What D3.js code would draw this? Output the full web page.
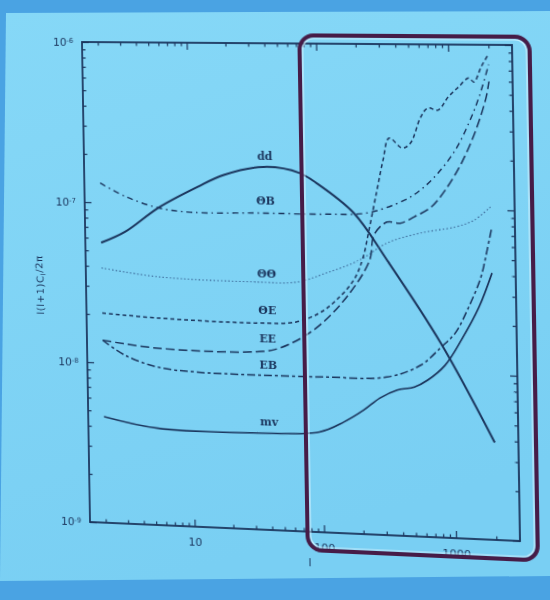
<!DOCTYPE html>
<html>
<head>
<meta charset="utf-8">
<script src="https://cdn.jsdelivr.net/npm/d3@7"></script>
<style>
html, body { margin: 0; padding: 0; width: 550px; height: 600px; overflow: hidden; background: #4aa3e3; }
#bg, #chart { position: absolute; left: 0; top: 0; }
#chart { transform-origin: 0 0; }
</style>
</head>
<body>
<svg id="bg" width="550" height="600"></svg>
<svg id="chart" width="550" height="600"></svg>
<script>
// ---- data: multipole l and l(l+1)C_l/2pi for each spectrum ----
const ddL = [2, 3.1, 5.7, 11.6, 18.7, 38, 72, 97, 185, 326, 810, 2000];
const ddV = [5.6e-8, 6.6e-8, 9.4e-8, 1.28e-7, 1.53e-7, 1.73e-7, 1.6e-7, 1.39e-7, 9.2e-8, 4.8e-8, 1.53e-8, 3.9e-9];

const tbL = [2, 3.2, 5.7, 10.2, 33, 114, 232, 449, 597, 810, 1100, 1400, 1680, 2000];
const tbV = [1.32e-7, 1.09e-7, 9.4e-8, 8.9e-8, 8.97e-8, 9.0e-8, 9.25e-8, 1.12e-7, 1.3e-7, 1.65e-7, 2.29e-7, 3.35e-7, 4.82e-7, 7.6e-7];

const ttL = [2, 5.6, 32, 66, 112, 202, 328, 589, 1077, 1483, 2000];
const ttV = [3.9e-8, 3.5e-8, 3.37e-8, 3.41e-8, 3.92e-8, 4.76e-8, 6.1e-8, 7.1e-8, 7.8e-8, 8.6e-8, 1.05e-7];

const teL = [2, 5.5, 32, 65, 98, 133, 181, 214, 240, 279, 313, 350, 439, 507, 610, 692, 824, 988, 1183, 1416, 1545, 1755, 2000];
const teV = [2.04e-8, 1.94e-8, 1.88e-8, 1.94e-8, 2.22e-8, 2.69e-8, 3.58e-8, 4.9e-8, 7.3e-8, 1.28e-7, 1.96e-7, 2.67e-7, 2.33e-7, 2.5e-7, 3.61e-7, 4.1e-7, 3.99e-7, 4.8e-7, 5.53e-7, 6.28e-7, 5.94e-7, 7.33e-7, 8.8e-7];

const eeL = [2, 5.4, 32, 48, 88, 159, 241, 261, 330, 415, 532, 709, 912, 1219, 1577, 1900, 2000];
const eeV = [1.38e-8, 1.26e-8, 1.25e-8, 1.33e-8, 1.74e-8, 2.81e-8, 4.78e-8, 6.8e-8, 8.2e-8, 8.1e-8, 8.9e-8, 1.02e-7, 1.3e-7, 1.91e-7, 3.04e-7, 4.83e-7, 6.0e-7];

const ebL = [2, 3, 5.4, 11, 32, 109, 316, 568, 813, 1045, 1325, 1650, 1850, 2000];
const ebV = [1.38e-8, 1.12e-8, 9.6e-9, 9.1e-9, 8.98e-9, 9.0e-9, 9.26e-9, 1.11e-8, 1.44e-8, 1.77e-8, 2.55e-8, 3.9e-8, 5.7e-8, 7.6e-8];

const mvL = [2, 5.3, 31, 95, 146, 208, 277, 375, 507, 640, 867, 1159, 1581, 2000];
const mvV = [4.6e-9, 4.0e-9, 3.94e-9, 4.13e-9, 4.81e-9, 5.75e-9, 6.87e-9, 7.75e-9, 8.15e-9, 9.04e-9, 1.12e-8, 1.61e-8, 2.56e-8, 4.15e-8];

const xTickValues = [10, 100, 1000];
const xTickLabels = ["10", "100", "1000"];
const yTickValues = [1e-9, 1e-8, 1e-7, 1e-6];
const yTickExps = ["-9", "-8", "-7", "-6"];

const seriesNames = ["dd", "\u0398B", "\u0398\u0398", "\u0398E", "EE", "EB", "mv"];

// ---- styling ----
const ink = "#1b365e";
const series = [
  { name: seriesNames[0], l: ddL, v: ddV, dash: null,          w: 2.0, color: ink,       dy: -7 },
  { name: seriesNames[1], l: tbL, v: tbV, dash: "6,4,1.5,4",   w: 1.4, color: ink,       dy: -9 },
  { name: seriesNames[2], l: ttL, v: ttV, dash: "1.5,2.2",     w: 1.1, color: "#3d6c9c", dy: -4 },
  { name: seriesNames[3], l: teL, v: teV, dash: "4,3",         w: 1.5, color: ink,       dy: -9 },
  { name: seriesNames[4], l: eeL, v: eeV, dash: "9,4",         w: 1.5, color: ink,       dy: -8 },
  { name: seriesNames[5], l: ebL, v: ebV, dash: "8,3,3,3",     w: 1.5, color: ink,       dy: -6 },
  { name: seriesNames[6], l: mvL, v: mvV, dash: null,          w: 1.6, color: ink,       dy: -7 }
];

// ---- backdrop (the projection screen) ----
const bg = d3.select("#bg");
const grad = bg.append("defs").append("linearGradient")
  .attr("id", "scr").attr("x1", 0).attr("y1", 0).attr("x2", 0.3).attr("y2", 1);
grad.append("stop").attr("offset", "0%").attr("stop-color", "#86d8f7");
grad.append("stop").attr("offset", "100%").attr("stop-color", "#79cff3");
bg.append("rect").attr("width", 550).attr("height", 600).attr("fill", "#4aa3e3");
bg.append("polygon")
  .attr("points", "6,13 550,11 550,576 0,581")
  .attr("fill", "url(#scr)");

// ---- chart, drawn flat then tilted into the screen's perspective ----
const svg = d3.select("#chart");
const M = { left: 82, right: 512, top: 42, bottom: 522 };

const x = d3.scaleLog().domain([1.5, 3000]).range([M.left, M.right]);
const y = d3.scaleLog().domain([1e-9, 1e-6]).range([M.bottom, M.top]);

function minorTicks(scale) {
  const [a, b] = scale.domain();
  const out = [];
  for (let p = Math.floor(Math.log10(a)); p <= Math.ceil(Math.log10(b)); p++) {
    for (let m = 2; m <= 9; m++) {
      const v = m * Math.pow(10, p);
      if (v > a && v < b) out.push(v);
    }
  }
  return out;
}
const xMinor = minorTicks(x);
const yMinor = minorTicks(y);

function styleAxis(g) {
  g.select(".domain").remove();
  g.selectAll(".tick line").attr("stroke", ink).attr("stroke-width", 1.2);
  g.selectAll(".tick text").attr("fill", ink);
}

// bottom axis
svg.append("g").attr("transform", `translate(0,${M.bottom})`)
  .call(d3.axisBottom(x).tickValues(xMinor).tickSize(-3.5).tickFormat(""))
  .call(styleAxis);
svg.append("g").attr("transform", `translate(0,${M.bottom})`)
  .call(d3.axisBottom(x).tickValues(xTickValues).tickSize(-7).tickPadding(10)
    .tickFormat((d, i) => xTickLabels[i]))
  .call(styleAxis)
  .call(g => g.selectAll(".tick text")
    .attr("font-family", "DejaVu Sans, sans-serif").attr("font-size", 11).attr("dy", "0.35em")
    .attr("y", 15));

// top axis
svg.append("g").attr("transform", `translate(0,${M.top})`)
  .call(d3.axisTop(x).tickValues(xMinor).tickSize(-3.5).tickFormat(""))
  .call(styleAxis);
svg.append("g").attr("transform", `translate(0,${M.top})`)
  .call(d3.axisTop(x).tickValues(xTickValues).tickSize(-7).tickFormat(""))
  .call(styleAxis);

// left axis
svg.append("g").attr("transform", `translate(${M.left},0)`)
  .call(d3.axisLeft(y).tickValues(yMinor).tickSize(-3.5).tickFormat(""))
  .call(styleAxis);
const gy = svg.append("g").attr("transform", `translate(${M.left},0)`)
  .call(d3.axisLeft(y).tickValues(yTickValues).tickSize(-7).tickFormat(""))
  .call(styleAxis);
gy.selectAll(".tick").each(function (d, i) {
  const t = d3.select(this).append("text")
    .attr("x", -9).attr("dy", "0.35em").attr("text-anchor", "end")
    .attr("fill", ink).attr("font-family", "DejaVu Sans, sans-serif").attr("font-size", 11);
  t.append("tspan").text("10");
  t.append("tspan").attr("dy", "-0.45em").attr("font-size", 7).text(yTickExps[i]);
});

// right axis
svg.append("g").attr("transform", `translate(${M.right},0)`)
  .call(d3.axisRight(y).tickValues(yMinor).tickSize(-3.5).tickFormat(""))
  .call(styleAxis);
svg.append("g").attr("transform", `translate(${M.right},0)`)
  .call(d3.axisRight(y).tickValues(yTickValues).tickSize(-7).tickFormat(""))
  .call(styleAxis);

// frame
svg.append("rect")
  .attr("x", M.left).attr("y", M.top)
  .attr("width", M.right - M.left).attr("height", M.bottom - M.top)
  .attr("fill", "none").attr("stroke", ink).attr("stroke-width", 1.8);

// axis titles
svg.append("text")
  .attr("transform", `translate(38,${(M.top + M.bottom) / 2 + 4}) rotate(-90)`)
  .attr("text-anchor", "middle").attr("fill", ink)
  .attr("font-family", "DejaVu Sans, sans-serif").attr("font-size", 10)
  .attr("letter-spacing", 0.6)
  .call(t => {
    t.append("tspan").text("l(l+1)C");
    t.append("tspan").attr("dy", "0.3em").attr("font-size", 7).text("l");
    t.append("tspan").attr("dy", "-0.3em").text("/2\u03c0");
  });
svg.append("text")
  .attr("x", (x(60) + x(100)) / 2).attr("y", M.bottom + 34)
  .attr("text-anchor", "middle").attr("fill", ink)
  .attr("font-family", "DejaVu Sans, sans-serif").attr("font-size", 11)
  .text("l");

// curves
const line = d3.line()
  .x(d => x(d[0]))
  .y(d => y(d[1]))
  .curve(d3.curveCatmullRom.alpha(0.5));

const plot = svg.append("g");
series.forEach(s => {
  const pts = s.l.map((l, i) => [l, s.v[i]]);
  plot.append("path")
    .datum(pts)
    .attr("d", line)
    .attr("fill", "none")
    .attr("stroke", s.color)
    .attr("stroke-width", s.w)
    .attr("stroke-dasharray", s.dash)
    .attr("stroke-linecap", "butt");
});

// curve names, placed just above each curve at l = 37
const labelL = 37;
function valueAt(s, l) {
  const i = d3.bisectRight(s.l, l) - 1;
  const l0 = s.l[i], l1 = s.l[i + 1], v0 = s.v[i], v1 = s.v[i + 1];
  const t = (Math.log(l) - Math.log(l0)) / (Math.log(l1) - Math.log(l0));
  return Math.exp(Math.log(v0) + t * (Math.log(v1) - Math.log(v0)));
}
series.forEach(s => {
  svg.append("text")
    .attr("x", x(labelL) + 3).attr("y", y(valueAt(s, labelL)) + s.dy)
    .attr("text-anchor", "middle").attr("fill", ink)
    .attr("font-family", "DejaVu Serif, serif").attr("font-size", 11)
    .attr("font-weight", "bold")
    .text(s.name);
});

// highlight frame around the high-l region
const hx0 = 303, hy0 = 34, hx1 = 529, hy1 = 540;
svg.append("rect")
  .attr("x", hx0 + 3).attr("y", hy0 + 3)
  .attr("width", hx1 - hx0 - 6).attr("height", hy1 - hy0 - 6)
  .attr("rx", 11).attr("fill", "none")
  .attr("stroke", "#d9f5ff").attr("stroke-width", 1.2).attr("opacity", 0.8);
svg.append("rect")
  .attr("x", hx0).attr("y", hy0)
  .attr("width", hx1 - hx0).attr("height", hy1 - hy0)
  .attr("rx", 14).attr("fill", "none")
  .attr("stroke", "#461c47").attr("stroke-width", 4);

// perspective: flat plot corners -> where they sit on the photographed screen
function homography(src, dst) {
  const A = [], b = [];
  for (let i = 0; i < 4; i++) {
    const [sx, sy] = src[i], [dx, dy] = dst[i];
    A.push([sx, sy, 1, 0, 0, 0, -sx * dx, -sy * dx]); b.push(dx);
    A.push([0, 0, 0, sx, sy, 1, -sx * dy, -sy * dy]); b.push(dy);
  }
  const n = 8;
  for (let c = 0; c < n; c++) {
    let p = c;
    for (let r = c + 1; r < n; r++) if (Math.abs(A[r][c]) > Math.abs(A[p][c])) p = r;
    [A[c], A[p]] = [A[p], A[c]]; [b[c], b[p]] = [b[p], b[c]];
    for (let r = 0; r < n; r++) {
      if (r === c) continue;
      const f = A[r][c] / A[c][c];
      for (let k = c; k < n; k++) A[r][k] -= f * A[c][k];
      b[r] -= f * b[c];
    }
  }
  return b.map((v, i) => v / A[i][i]);
}
const H = homography(
  [[M.left, M.top], [M.right, M.top], [M.left, M.bottom], [M.right, M.bottom]],
  [[82, 42], [512, 45], [90, 522], [520, 541]]
);
const [ha, hb, hc, hd, he, hf, hg, hh] = H;
document.getElementById("chart").style.transform =
  `matrix3d(${ha},${hd},0,${hg},${hb},${he},0,${hh},0,0,1,0,${hc},${hf},0,1)`;
</script>
</body>
</html>
